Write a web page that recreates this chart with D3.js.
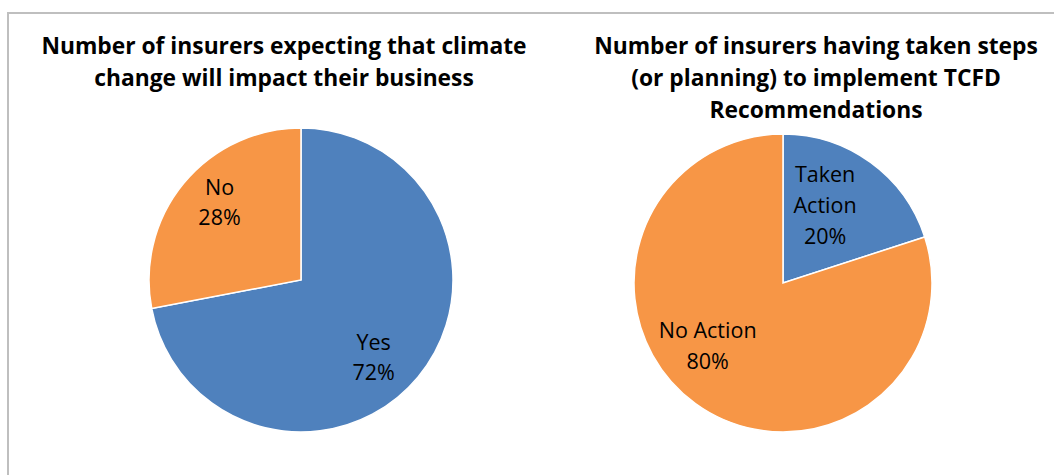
<!DOCTYPE html>
<html>
<head>
<meta charset="utf-8">
<script src="https://cdn.jsdelivr.net/npm/d3@7"></script>
<style>
  html, body { margin: 0; padding: 0; background: #fff; }
  svg { display: block; }
</style>
</head>
<body>
<svg id="chart" width="1054" height="475"></svg>
<script>
// ---- Data ----
const chart1Title = ["Number of insurers expecting that climate", "change will impact their business"];
const chart1Categories = ["Yes", "No"];
const chart1Values = [72, 28];
const chart1Colors = ["#4F81BD", "#F79646"];

const chart2Title = ["Number of insurers having taken steps", "(or planning) to implement TCFD", "Recommendations"];
const chart2Categories = ["Taken Action", "No Action"];
const chart2LabelLines = [["Taken", "Action"], ["No Action"]];
const chart2Values = [20, 80];
const chart2Colors = ["#4F81BD", "#F79646"];

// ---- Layout ----
const svg = d3.select("#chart");
const FONT = "'Open Sans', Lato, 'DejaVu Sans', sans-serif";

svg.append("rect")
  .attr("x", 8).attr("y", 13)
  .attr("width", 1100).attr("height", 500)
  .attr("fill", "none")
  .attr("stroke", "#BFBFBF")
  .attr("stroke-width", 2);

function drawTitle(lines, cx, firstBaseline, lineH) {
  const g = svg.append("g");
  g.selectAll("text").data(lines).join("text")
    .attr("x", cx)
    .attr("y", (d, i) => firstBaseline + i * lineH)
    .attr("text-anchor", "middle")
    .attr("font-family", FONT)
    .attr("font-weight", "bold")
    .attr("font-size", 22.8)
    .attr("fill", "#000")
    .text(d => d);
}

function drawPie(cfg) {
  const pie = d3.pie().sort(null).value(d => d.value);
  const arcs = pie(cfg.values.map((v, i) => ({ value: v, cat: cfg.categories[i], lines: cfg.lines[i] })));
  const arc = d3.arc().innerRadius(0).outerRadius(cfg.r);
  const g = svg.append("g").attr("transform", `translate(${cfg.cx},${cfg.cy})`);
  g.selectAll("path").data(arcs).join("path")
    .attr("d", arc)
    .attr("fill", (d, i) => cfg.colors[i])
    .attr("stroke", "#fff")
    .attr("stroke-width", 1.5);

  const total = d3.sum(cfg.values);
  arcs.forEach((d, i) => {
    const p = cfg.labelPlace[i];
    const mid = (d.startAngle + d.endAngle) / 2 + p.dAngle * Math.PI / 180;
    const rr = cfg.r * p.frac;
    const x = rr * Math.sin(mid);
    const y = -rr * Math.cos(mid);
    const lines = d.data.lines.concat([Math.round(d.data.value / total * 100) + "%"]);
    const lh = cfg.labelLineH;
    const startBase = y - (lines.length - 1) * lh / 2 + 7.5;
    g.append("g").selectAll("text").data(lines).join("text")
      .attr("x", x)
      .attr("y", (t, k) => startBase + k * lh)
      .attr("text-anchor", "middle")
      .attr("font-family", FONT)
      .attr("font-size", 21.5)
      .attr("fill", "#000")
      .text(t => t);
  });
}

drawTitle(chart1Title, 284, 54, 32);
drawTitle(chart2Title, 816, 54, 32);

drawPie({
  cx: 301, cy: 280, r: 152,
  values: chart1Values, categories: chart1Categories,
  lines: chart1Categories.map(c => [c]),
  colors: chart1Colors,
  labelLineH: 30,
  labelPlace: [{ frac: 0.70, dAngle: 7.4 }, { frac: 0.74, dAngle: 4 }]
});

drawPie({
  cx: 783, cy: 283, r: 149,
  values: chart2Values, categories: chart2Categories,
  lines: chart2LabelLines,
  colors: chart2Colors,
  labelLineH: 31,
  labelPlace: [{ frac: 0.59, dAngle: -7.4 }, { frac: 0.66, dAngle: 14 }]
});
</script>
</body>
</html>
